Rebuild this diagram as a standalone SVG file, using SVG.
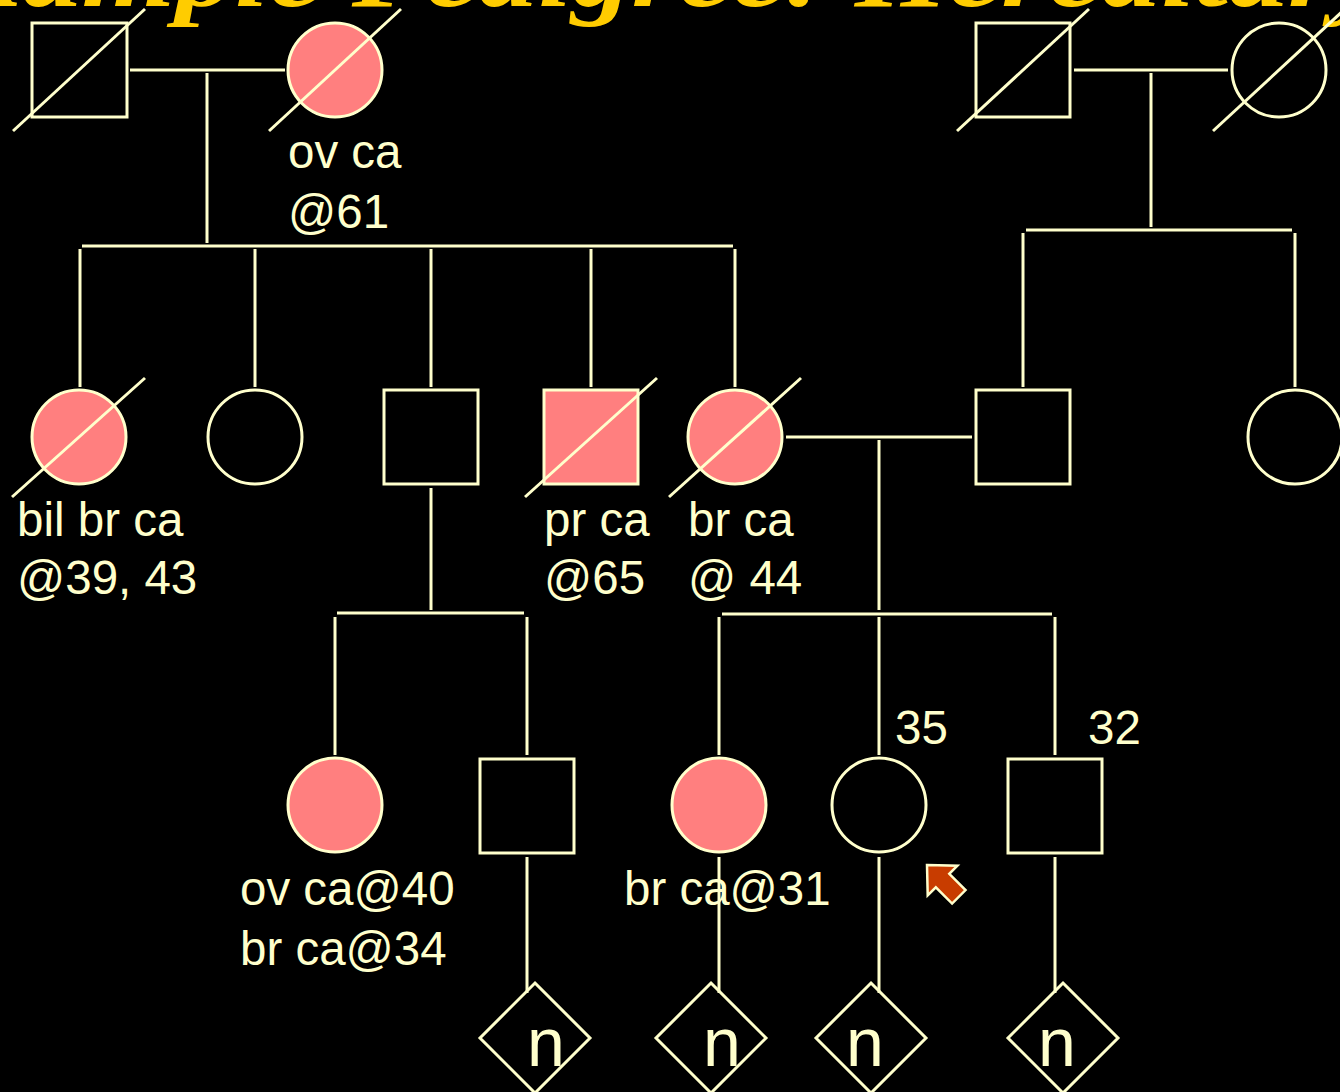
<svg xmlns="http://www.w3.org/2000/svg" width="1340" height="1092" viewBox="0 0 1340 1092">
<style>
.ln{stroke:#FFFFCC;stroke-width:3;fill:none}
.sym{stroke:#FFFFCC;stroke-width:3;fill:none}
.aff{fill:#FF7F7F}
.lbl{fill:#FFFFCC;font-family:"Liberation Sans",Arial,sans-serif;font-size:47.5px}
.n{fill:#FFFFCC;font-family:"Liberation Sans",Arial,sans-serif;font-size:68px;text-anchor:middle}
.title{fill:#FFCC00;font-family:"Liberation Serif","Times New Roman",serif;font-size:100px;font-weight:bold;font-style:italic}
</style>
<rect x="0" y="0" width="1340" height="1092" fill="#000000"/>
<text id="title" class="title" transform="scale(1.2,1)" x="-98.5" y="6">Example Pedigree: Hereditary</text>

<g id="connectors" class="ln">
<line x1="130" y1="70" x2="285" y2="70"/>
<line x1="207" y1="73" x2="207" y2="243"/>
<line x1="82" y1="246" x2="733" y2="246"/>
<line x1="80" y1="249" x2="80" y2="387"/>
<line x1="255" y1="249" x2="255" y2="387"/>
<line x1="431" y1="249" x2="431" y2="387"/>
<line x1="591" y1="249" x2="591" y2="387"/>
<line x1="735" y1="249" x2="735" y2="387"/>
<line x1="1074" y1="70" x2="1228" y2="70"/>
<line x1="1151" y1="73" x2="1151" y2="227"/>
<line x1="1026" y1="230" x2="1292" y2="230"/>
<line x1="1023" y1="233" x2="1023" y2="387"/>
<line x1="1295" y1="233" x2="1295" y2="387"/>
<line x1="786" y1="437" x2="972" y2="437"/>
<line x1="879" y1="440" x2="879" y2="610"/>
<line x1="431" y1="488" x2="431" y2="610"/>
<line x1="337" y1="613" x2="524" y2="613"/>
<line x1="335" y1="617" x2="335" y2="755"/>
<line x1="527" y1="617" x2="527" y2="755"/>
<line x1="722" y1="614" x2="1052" y2="614"/>
<line x1="719" y1="617" x2="719" y2="755"/>
<line x1="879" y1="617" x2="879" y2="755"/>
<line x1="1055" y1="617" x2="1055" y2="755"/>
<line x1="527" y1="857" x2="527" y2="993"/>
<line x1="719" y1="857" x2="719" y2="993"/>
<line x1="879" y1="857" x2="879" y2="993"/>
<line x1="1055" y1="857" x2="1055" y2="993"/>
</g>

<g id="gp1">
<rect class="sym" x="32" y="23" width="95" height="94"/>
<line class="ln" x1="13" y1="131" x2="145" y2="9"/>
</g>
<g id="gm1">
<circle class="sym aff" cx="335" cy="70" r="47"/>
<line class="ln" x1="269" y1="131" x2="401" y2="9"/>
<text class="lbl" x="288" y="168">ov ca</text>
<text class="lbl" x="288" y="228">@61</text>
</g>
<g id="gp2">
<rect class="sym" x="976" y="23" width="94" height="94"/>
<line class="ln" x1="957" y1="131" x2="1089" y2="9"/>
</g>
<g id="gm2">
<circle class="sym" cx="1279" cy="70" r="47"/>
<line class="ln" x1="1213" y1="131" x2="1345" y2="9"/>
</g>

<g id="aunt1">
<circle class="sym aff" cx="79" cy="437" r="47"/>
<line class="ln" x1="12" y1="497" x2="145" y2="378"/>
<text class="lbl" x="17" y="536">bil br ca</text>
<text class="lbl" x="17" y="594">@39, 43</text>
</g>
<g id="aunt2">
<circle class="sym" cx="255" cy="437" r="47"/>
</g>
<g id="uncle1">
<rect class="sym" x="384" y="390" width="94" height="94"/>
</g>
<g id="uncle2">
<rect class="sym aff" x="544" y="390" width="94" height="94"/>
<line class="ln" x1="525" y1="497" x2="657" y2="378"/>
<text class="lbl" x="544" y="536">pr ca</text>
<text class="lbl" x="544" y="594">@65</text>
</g>
<g id="mother">
<circle class="sym aff" cx="735" cy="437" r="47"/>
<line class="ln" x1="669" y1="497" x2="801" y2="378"/>
<text class="lbl" x="688" y="536">br ca</text>
<text class="lbl" x="688" y="594">@ 44</text>
</g>
<g id="father">
<rect class="sym" x="976" y="390" width="94" height="94"/>
</g>
<g id="paunt">
<circle class="sym" cx="1295" cy="437" r="47"/>
</g>

<g id="cousin1">
<circle class="sym aff" cx="335" cy="805" r="47"/>
<text class="lbl" x="240" y="905">ov ca@40</text>
<text class="lbl" x="240" y="965">br ca@34</text>
</g>
<g id="cousin2">
<rect class="sym" x="480" y="759" width="94" height="94"/>
</g>
<g id="sister">
<circle class="sym aff" cx="719" cy="805" r="47"/>
<text class="lbl" x="624" y="905">br ca@31</text>
</g>
<g id="proband">
<circle class="sym" cx="879" cy="805" r="47"/>
<text class="lbl" x="895" y="744">35</text>
</g>
<g id="brother">
<rect class="sym" x="1008" y="759" width="94" height="94"/>
<text class="lbl" x="1088" y="744">32</text>
</g>

<g id="arrow">
<polygon transform="translate(927,865) rotate(45)" points="0,0 22,-21 22,-9.5 45,-9.5 45,9.5 22,9.5 22,21" fill="#C83C00" stroke="#FFFFCC" stroke-width="2.5" stroke-linejoin="miter"/>
</g>

<g id="d1"><polygon class="sym" points="535,983 590,1038 535,1093 480,1038"/><text class="n" x="546" y="1066">n</text></g>
<g id="d2"><polygon class="sym" points="711,983 766,1038 711,1093 656,1038"/><text class="n" x="722" y="1066">n</text></g>
<g id="d3"><polygon class="sym" points="871,983 926,1038 871,1093 816,1038"/><text class="n" x="865" y="1066">n</text></g>
<g id="d4"><polygon class="sym" points="1063,983 1118,1038 1063,1093 1008,1038"/><text class="n" x="1057" y="1066">n</text></g>
</svg>
